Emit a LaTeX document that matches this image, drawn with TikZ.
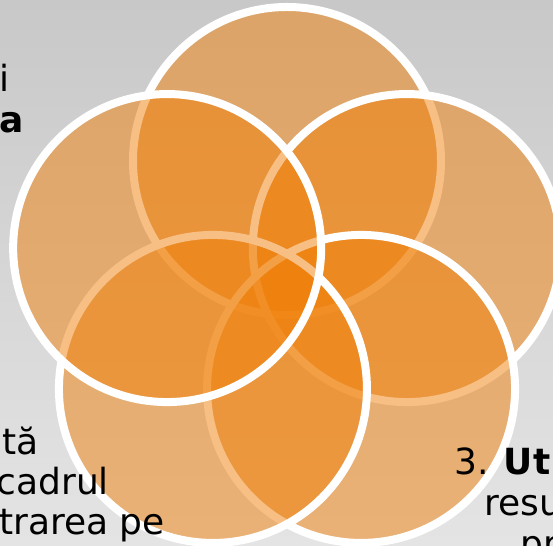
\documentclass[tikz,border=0pt]{standalone}
\usepackage{fontspec}
\setmainfont{DejaVu Sans}
\usepackage{tikz}

\definecolor{petalfill}{RGB}{240,128,9}
\definecolor{bgtop}{RGB}{200,200,200}
\definecolor{bgbot}{RGB}{228,228,228}

\begin{document}
\begin{tikzpicture}[x=1pt, y=1pt, font=\fontsize{36}{40}\selectfont]

  \tikzstyle{petal}=[circle, minimum size=308pt, inner sep=0pt, draw=white, line width=8pt, fill=petalfill, fill opacity=0.5]
  \tikzstyle{snippet}=[inner sep=0pt, text=black]

  \useasboundingbox (0,0) rectangle (553,545);
  \clip (0,0) rectangle (553,545);
  \shade[top color=bgtop, bottom color=bgbot] (0,0) rectangle (553,545);

  \coordinate (hub) at (287,258);
  \foreach \a [count=\i] in {90,18,-54,-126,-198}
    \node[petal] (p\i) at ([shift={(\a:126)}]hub) {};

  \node[snippet, anchor=base east] (l1) at (10,453)  {i};
  \node[snippet, anchor=base east] (l2) at (24,412)  {\textbf{a}};
  \node[snippet, anchor=base east] (b1) at (39,90)   {tă};
  \node[snippet, anchor=base east] (b2) at (109,50)  {cadrul};
  \node[snippet, anchor=base east] (b3) at (165,10)  {trarea pe};
  \node[snippet, anchor=base west] (r1) at (454,70)  {3. \textbf{Uti}};
  \node[snippet, anchor=base west] (r2) at (484,29)  {resu};
  \node[snippet, anchor=base west] (r3) at (520,-11) {pr};
\end{tikzpicture}
\end{document}
